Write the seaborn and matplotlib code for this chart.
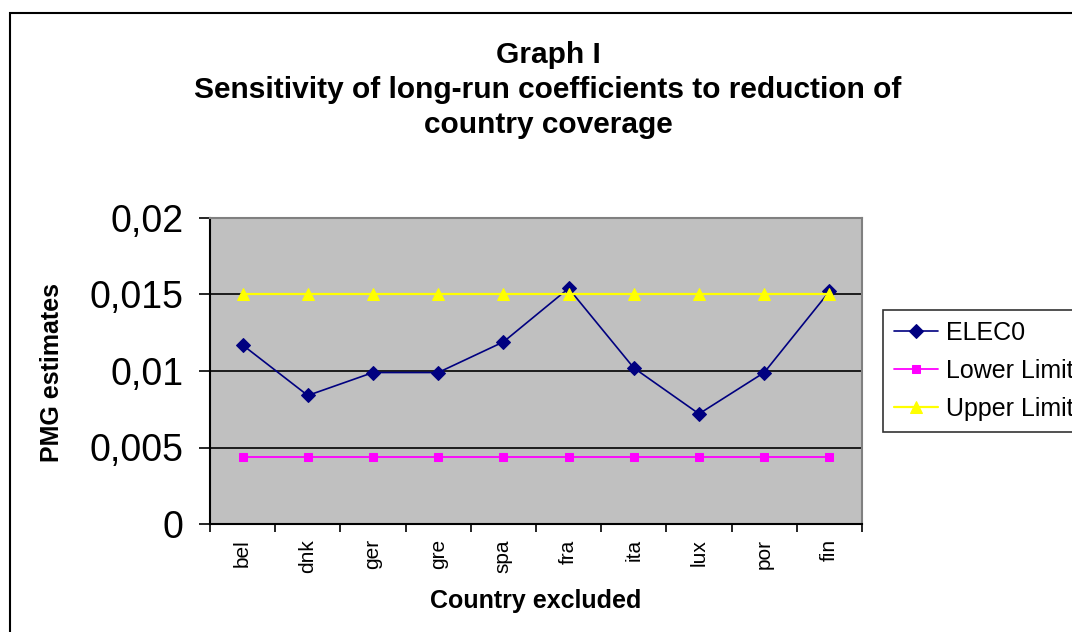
import matplotlib
matplotlib.use("Agg")
import matplotlib.pyplot as plt
from matplotlib.patches import Rectangle
from matplotlib.ticker import FixedLocator, FuncFormatter
import seaborn as sns
import pandas as pd

countries = ["bel", "dnk", "ger", "gre", "spa", "fra", "ita", "lux", "por", "fin"]
elec0 = [0.0117, 0.0084, 0.0099, 0.0099, 0.0119, 0.0154, 0.0102, 0.0072, 0.0099, 0.0152]
lower_limit = [0.0044] * 10
upper_limit = [0.0150] * 10
series_names = ["ELEC0", "Lower Limit", "Upper Limit"]

df = pd.DataFrame({
    "country": countries * 3,
    "value": elec0 + lower_limit + upper_limit,
    "series": [series_names[0]] * 10 + [series_names[1]] * 10 + [series_names[2]] * 10,
})

sns.set_style("white")
plt.rcParams["font.family"] = ["Liberation Sans", "DejaVu Sans"]
plt.rcParams.update({"text.color": "black", "axes.labelcolor": "black",
                     "xtick.color": "black", "ytick.color": "black"})

fig = plt.figure(figsize=(10.72, 6.32), dpi=100)
ax = fig.add_axes([210 / 1072, 1 - 524 / 632, 652 / 1072, 306 / 632])
ax.set_facecolor("#C0C0C0")

palette = {"ELEC0": "#000080", "Lower Limit": "#FF00FF", "Upper Limit": "#FFFF00"}
markers = {"ELEC0": "D", "Lower Limit": "s", "Upper Limit": "^"}
sizes = {"ELEC0": 7, "Lower Limit": 6, "Upper Limit": 8.5}
widths = {"ELEC0": 1.2, "Lower Limit": 1.3, "Upper Limit": 1.6}

# series drawn in order, later ones on top
for z, name in enumerate(series_names):
    sub = df[df["series"] == name]
    sns.lineplot(data=sub, x="country", y="value", ax=ax, color=palette[name],
                 marker=markers[name], markersize=sizes[name], markeredgecolor=palette[name],
                 linewidth=widths[name], sort=False, label=name, legend=False, zorder=3 + z)

ax.set_xlim(-0.5, len(countries) - 0.5)
ax.set_ylim(0, 0.02)
ax.set_yticks([0, 0.005, 0.01, 0.015, 0.02])
ax.yaxis.set_major_formatter(FuncFormatter(lambda v, p: ("%g" % v).replace(".", ",")))
ax.yaxis.grid(True, color="black", linewidth=1.2, zorder=1)
ax.set_axisbelow(True)

ax.set_xticks(range(len(countries)))
ax.set_xticklabels(countries, rotation=90, fontsize=15)
ax.xaxis.set_minor_locator(FixedLocator([i - 0.5 for i in range(len(countries) + 1)]))
ax.tick_params(axis="x", which="major", length=0, pad=11)
ax.tick_params(axis="x", which="minor", length=6, width=1.2, color="black", direction="out", bottom=True)
ax.tick_params(axis="y", length=8, width=1.2, color="black", direction="out", left=True, labelsize=27, pad=11)

for side in ["top", "right"]:
    ax.spines[side].set_color("#808080")
    ax.spines[side].set_linewidth(1.5)
for side in ["left", "bottom"]:
    ax.spines[side].set_color("black")
    ax.spines[side].set_linewidth(1.5)

ax.set_xlabel("")
ax.set_ylabel("")
fig.text(536 / 1072, 1 - 608 / 632, "Country excluded", ha="center", va="baseline",
         fontsize=18, fontweight="bold")
fig.text(52 / 1072, 1 - 373 / 632, "PMG estimates", ha="center", va="center", rotation=90,
         fontsize=18, fontweight="bold")

title_lines = ["Graph I", "Sensitivity of long-run coefficients to reduction of", "country coverage"]
for i, line in enumerate(title_lines):
    fig.text(548 / 1072, 1 - (63 + 35 * i) / 632, line, ha="center", va="baseline",
             fontsize=21.5, fontweight="bold")

handles, labels = ax.get_legend_handles_labels()
leg = fig.legend(handles, labels,
                 loc="upper left", bbox_to_anchor=(883 / 1072, 1 - 310 / 632),
                 fontsize=18, frameon=True, fancybox=False, edgecolor="black",
                 borderpad=0.45, labelspacing=0.56, handlelength=1.75, handletextpad=0.3,
                 borderaxespad=0)
leg.get_frame().set_linewidth(1.2)

fig.patches.append(Rectangle((10 / 1072, -0.1), 1.2, 1.1 - 13 / 632, transform=fig.transFigure,
                             fill=False, edgecolor="black", linewidth=1.5))

fig.savefig("out.png", dpi=100)
